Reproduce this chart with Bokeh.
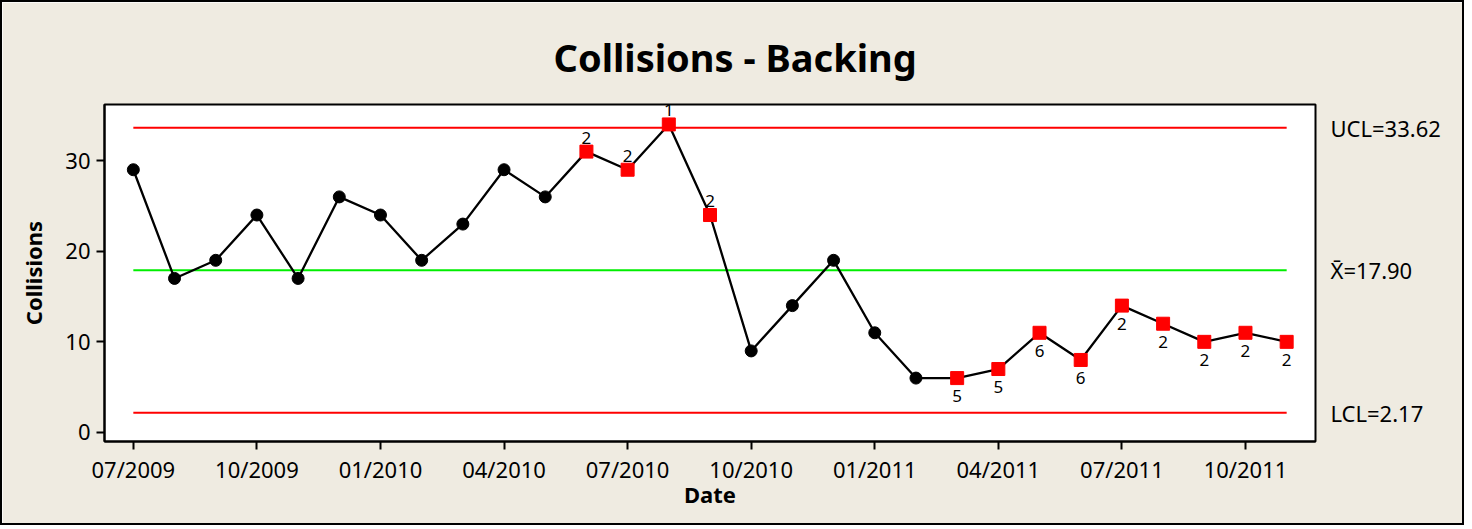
from bokeh.plotting import figure
from bokeh.models import FixedTicker, LinearAxis
from bokeh.core.properties import value
from bokeh.embed import file_html
from bokeh.resources import INLINE

# ---- data ----
tick_labels = ["07/2009", "10/2009", "01/2010", "04/2010", "07/2010",
               "10/2010", "01/2011", "04/2011", "07/2011", "10/2011"]
collisions = [29, 17, 19, 24, 17, 26, 24, 19, 23, 29, 26, 31, 29, 34, 24,
              9, 14, 19, 11, 6, 6, 7, 11, 8, 14, 12, 10, 11, 10]
flags = ["", "", "", "", "", "", "", "", "", "", "", "2", "2", "1", "2",
         "", "", "", "", "", "5", "5", "6", "6", "2", "2", "2", "2", "2"]
ucl = 33.62
center = 17.90
lcl = 2.17
limit_labels = ["UCL=33.62", "X\u0304=17.90", "LCL=2.17"]

n = len(collisions)
idx = list(range(n))

FONT = "Noto Sans"
BG = "#EFEBE1"

p = figure(width=1464, height=525, output_backend="svg", toolbar_location=None,
           x_range=(-0.7, n - 1 + 0.7), y_range=(-1.0, 36.2),
           min_border_left=102, min_border_right=151, min_border_top=102,
           min_border_bottom=86, title="Collisions - Backing")
p.background_fill_color = "white"
p.border_fill_color = BG
p.outline_line_color = "black"
p.outline_line_width = 2
p.grid.visible = False
p.styles = {"border": "2px solid black"}

p.title.align = "left"
p.title.offset = 449
p.title.text_font = FONT
p.title.text_font_size = "38px"
p.title.text_font_style = "bold"
p.title.text_color = "black"
p.title.text_line_height = 0.9
p.title.standoff = 44

# axes
p.xaxis.ticker = FixedTicker(ticks=list(range(0, n, 3)))
p.xaxis.major_label_overrides = {i * 3: lab for i, lab in enumerate(tick_labels)}
p.yaxis.ticker = FixedTicker(ticks=[0, 10, 20, 30])
for ax in (p.xaxis, p.yaxis):
    ax.axis_line_color = "black"
    ax.axis_line_width = 2
    ax.major_tick_line_width = 2
    ax.major_tick_out = 8
    ax.major_tick_in = 0
    ax.minor_tick_line_color = None
    ax.major_label_text_font = FONT
    ax.major_label_text_font_size = "22px"
    ax.major_label_text_color = "black"
    ax.axis_label_text_font = FONT
    ax.axis_label_text_font_style = "bold"
    ax.axis_label_text_color = "black"
p.xaxis.axis_label = "Date"
p.yaxis.axis_label = "Collisions"
p.xaxis.axis_label_text_font_size = "22px"
p.yaxis.axis_label_text_font_size = "22px"
p.xaxis.major_label_standoff = 4
p.yaxis.major_label_standoff = 6
p.xaxis.axis_label_standoff = -8
p.yaxis.axis_label_standoff = 14

# right-hand limit labels
rax = LinearAxis(ticker=FixedTicker(ticks=[ucl, center, lcl]),
                 major_label_overrides={ucl: limit_labels[0], center: limit_labels[1],
                                        lcl: limit_labels[2]})
rax.axis_line_color = None
rax.major_tick_line_color = None
rax.minor_tick_line_color = None
rax.major_label_standoff = 9
rax.major_label_text_font = FONT
rax.major_label_text_font_size = "22px"
rax.major_label_text_color = "black"
p.add_layout(rax, "right")

# control lines
xs = [0, n - 1]
p.line(xs, [ucl, ucl], line_color="red", line_width=2)
p.line(xs, [lcl, lcl], line_color="red", line_width=2)
p.line(xs, [center, center], line_color="#00EE00", line_width=2)

# series
p.line(idx, collisions, line_color="black", line_width=2.3)
ok_x = [i for i in idx if flags[i] == ""]
ok_y = [collisions[i] for i in ok_x]
bad_x = [i for i in idx if flags[i] != ""]
bad_y = [collisions[i] for i in bad_x]
p.scatter(ok_x, ok_y, marker="circle", size=12, fill_color="black", line_color="black")
p.scatter(bad_x, bad_y, marker="square", size=13, fill_color="red", line_color="red")

# flag labels
above = [i for i in bad_x if collisions[i] > center]
below = [i for i in bad_x if collisions[i] <= center]
p.text(above, [collisions[i] for i in above], text=[flags[i] for i in above],
       text_align="center", text_baseline="bottom", y_offset=-8,
       text_font_size="17px", text_color="black", text_font=value(FONT))
p.text(below, [collisions[i] for i in below], text=[flags[i] for i in below],
       text_align="center", text_baseline="top", y_offset=12,
       text_font_size="17px", text_color="black", text_font=value(FONT))

open("out.html", "w").write(file_html(p, INLINE))
